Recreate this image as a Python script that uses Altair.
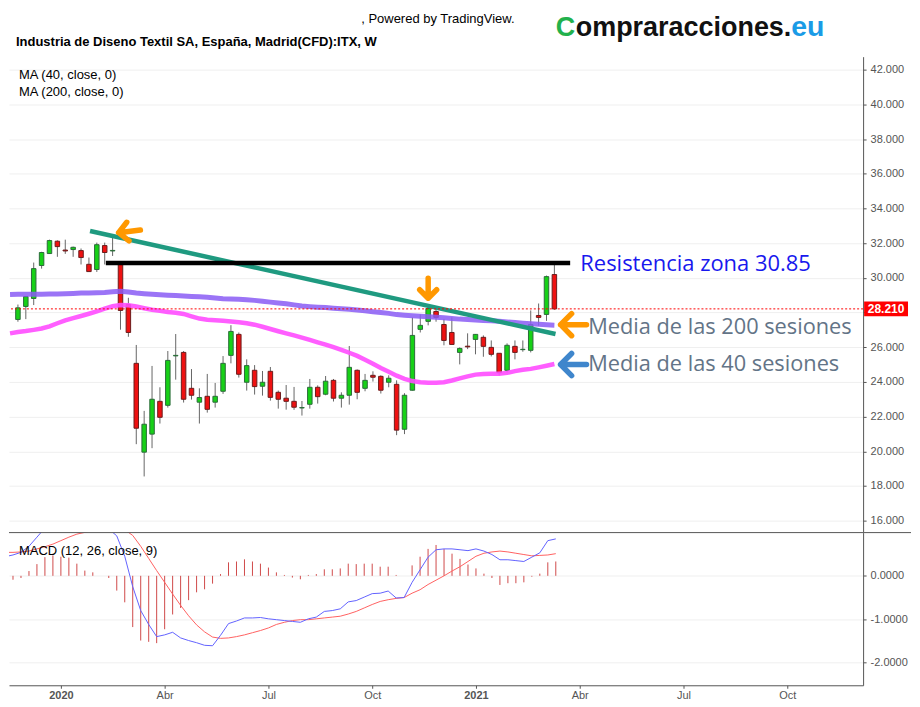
import json
import altair as alt
import pandas as pd

# ---------------- data (weekly bars, ITX) ----------------
first_week = "2019-11-18"
n_weeks = 69
open_ = [27.60, 28.35, 28.81, 30.71, 31.40, 32.11, 31.60, 31.63, 31.57, 30.78,
         30.48, 31.86, 31.55, 30.82, 28.46, 25.07, 19.95, 20.99, 22.88, 22.65,
         25.50, 25.70, 23.63, 22.83, 23.17, 22.83, 23.46, 25.53, 26.74, 23.98,
         24.67, 23.75, 24.61, 23.40, 23.06, 22.88, 22.50, 22.71, 23.69, 23.29,
         24.09, 23.06, 23.23, 24.67, 23.63, 24.38, 24.32, 23.98, 23.86, 21.27,
         23.52, 27.03, 27.49, 28.06, 27.31, 26.85, 25.70, 26.06, 26.45, 26.57,
         25.99, 25.65, 24.67, 26.05, 25.86, 25.82, 27.83, 27.89, 30.19]
high = [28.46, 28.95, 30.88, 31.50, 32.20, 32.16, 32.20, 31.80, 31.69, 31.17,
        32.03, 32.03, 32.30, 30.85, 28.85, 26.13, 22.33, 24.92, 23.69, 25.78,
        26.76, 25.78, 24.74, 23.63, 24.46, 23.94, 25.49, 27.27, 26.85, 25.30,
        24.97, 24.63, 24.86, 23.50, 23.82, 23.71, 22.90, 24.17, 23.80, 24.34,
        24.17, 23.40, 26.07, 24.72, 24.46, 24.61, 24.38, 24.38, 24.09, 23.35,
        27.72, 27.89, 28.43, 28.23, 27.62, 27.72, 25.99, 26.80, 26.76, 26.68,
        26.39, 25.66, 26.22, 26.39, 26.39, 28.12, 28.52, 30.13, 30.76]
low = [27.47, 27.62, 28.43, 30.53, 31.38, 31.21, 31.38, 31.21, 30.77, 30.34,
       30.34, 30.77, 31.26, 27.01, 26.60, 20.41, 18.55, 20.18, 21.60, 22.52,
       24.13, 22.81, 22.98, 21.60, 22.23, 22.52, 23.31, 25.07, 24.25, 23.50,
       23.27, 23.21, 22.92, 22.46, 22.40, 22.39, 22.06, 22.46, 22.75, 23.23,
       22.87, 22.52, 22.69, 23.00, 23.46, 24.02, 23.33, 23.69, 20.93, 20.99,
       23.50, 26.85, 27.26, 27.47, 26.11, 26.14, 25.01, 25.89, 25.59, 25.45,
       25.47, 24.38, 24.55, 25.30, 25.74, 25.70, 27.24, 27.52, 28.16]
close = [28.27, 28.92, 30.53, 31.46, 32.15, 31.80, 31.55, 31.76, 31.17, 30.36,
         31.91, 31.46, 31.58, 28.12, 26.85, 21.33, 21.56, 23.00, 21.96, 25.24,
         25.53, 23.00, 23.23, 23.10, 22.42, 23.17, 25.07, 26.91, 24.44, 24.94,
         23.73, 23.98, 23.11, 23.00, 22.88, 22.54, 22.52, 23.69, 23.15, 24.04,
         23.06, 23.23, 24.84, 23.40, 24.09, 24.27, 23.52, 24.21, 21.22, 23.23,
         26.68, 27.26, 28.23, 27.72, 26.39, 26.16, 25.93, 26.02, 26.74, 26.05,
         25.59, 24.53, 26.11, 25.70, 25.88, 27.31, 27.72, 30.07, 28.21]
ma40 = [26.88, 26.93, 27.00, 27.08, 27.20, 27.38, 27.55, 27.68, 27.80, 27.93,
        28.07, 28.22, 28.36, 28.43, 28.42, 28.35, 28.25, 28.16, 28.10, 28.03,
        27.99, 27.92, 27.78, 27.65, 27.58, 27.55, 27.52, 27.48, 27.44, 27.38,
        27.30, 27.18, 27.05, 26.92, 26.80, 26.68, 26.55, 26.42, 26.28, 26.15,
        26.00, 25.85, 25.68, 25.50, 25.28, 25.05, 24.80, 24.58, 24.36, 24.18,
        24.05, 23.98, 23.95, 23.95, 23.98, 24.08, 24.20, 24.32, 24.42, 24.46,
        24.47, 24.47, 24.52, 24.62, 24.70, 24.75, 24.84, 24.93, 25.03]
ma200 = [29.05, 29.06, 29.06, 29.06, 29.07, 29.07, 29.08, 29.10, 29.12, 29.13,
         29.14, 29.16, 29.20, 29.22, 29.18, 29.12, 29.08, 29.05, 29.03, 29.00,
         28.98, 28.95, 28.93, 28.91, 28.88, 28.84, 28.80, 28.78, 28.76, 28.73,
         28.70, 28.65, 28.60, 28.55, 28.50, 28.44, 28.38, 28.34, 28.31, 28.29,
         28.25, 28.22, 28.19, 28.15, 28.10, 28.05, 28.00, 27.95, 27.88, 27.84,
         27.81, 27.78, 27.76, 27.73, 27.70, 27.66, 27.62, 27.60, 27.57, 27.54,
         27.52, 27.50, 27.46, 27.42, 27.38, 27.35, 27.32, 27.29, 27.27]
macd = [0.48, 0.54, 0.68, 0.89, 1.10, 1.20, 1.25, 1.31, 1.24, 1.12,
        1.12, 1.08, 1.08, 0.92, 0.45, -0.25, -0.80, -1.12, -1.40, -1.36,
        -1.30, -1.43, -1.49, -1.54, -1.60, -1.61, -1.37, -1.10, -1.04, -0.97,
        -0.97, -0.96, -0.99, -1.01, -1.03, -1.05, -1.07, -0.99, -0.95, -0.82,
        -0.80, -0.76, -0.60, -0.57, -0.49, -0.41, -0.40, -0.35, -0.51, -0.50,
        -0.15, 0.14, 0.43, 0.60, 0.62, 0.62, 0.60, 0.58, 0.62, 0.57,
        0.49, 0.37, 0.37, 0.35, 0.33, 0.43, 0.53, 0.81, 0.85]
signal = [0.54, 0.55, 0.57, 0.62, 0.67, 0.73, 0.81, 0.89, 0.96, 1.00,
          1.04, 1.07, 1.09, 1.10, 1.06, 0.93, 0.68, 0.40, 0.12, -0.15,
          -0.42, -0.68, -0.92, -1.13, -1.29, -1.41, -1.44, -1.43, -1.40, -1.36,
          -1.31, -1.26, -1.20, -1.12, -1.07, -1.03, -1.01, -1.01, -0.99, -0.97,
          -0.95, -0.93, -0.88, -0.82, -0.74, -0.66, -0.59, -0.55, -0.52, -0.50,
          -0.40, -0.32, -0.20, -0.10, 0.00, 0.11, 0.21, 0.33, 0.45, 0.52,
          0.55, 0.57, 0.55, 0.52, 0.49, 0.46, 0.47, 0.48, 0.51]
hist = [-0.09, -0.05, 0.11, 0.27, 0.43, 0.47, 0.44, 0.42, 0.28, 0.12,
        0.08, 0.00, -0.05, -0.34, -0.61, -1.18, -1.49, -1.52, -1.55, -1.23,
        -0.89, -0.74, -0.56, -0.38, -0.31, -0.18, 0.04, 0.31, 0.33, 0.38,
        0.33, 0.28, 0.19, 0.08, 0.02, -0.04, -0.08, 0.02, 0.04, 0.15,
        0.15, 0.17, 0.28, 0.27, 0.28, 0.28, 0.21, 0.21, 0.02, 0.00,
        0.24, 0.44, 0.62, 0.71, 0.62, 0.51, 0.39, 0.26, 0.17, 0.05,
        -0.05, -0.21, -0.17, -0.17, -0.15, -0.02, 0.05, 0.31, 0.33]

# indicator values of the week before the first bar (lines enter from the left edge)
lead_week = "2019-11-11"
lead_ma40, lead_ma200, lead_macd, lead_signal = 26.80, 29.04, 0.44, 0.54

price_ticks = [16, 18, 20, 22, 24, 26, 28, 30, 32, 34, 36, 38, 40, 42]
hidden_price_labels = [28]  # covered by the last-price tag
macd_ticks = [0, -1, -2]
x_tick_weeks = ["2019-12-30", "2020-03-30", "2020-06-29", "2020-09-28",
                "2020-12-28", "2021-03-29", "2021-06-28", "2021-09-27"]
x_tick_labels = ["2020", "Abr", "Jul", "Oct", "2021", "Abr", "Jul", "Oct"]
bold_labels = ["2020", "2021"]

trend_dates = ["2020-01-21", "2021-03-09"]
trend_vals = [32.70, 26.76]
res_dates = ["2020-02-04", "2021-03-22"]
res_level = 30.85
last_price = 28.21

title_txt = "Industria de Diseno Textil SA, España, Madrid(CFD):ITX, W"
powered_txt = ", Powered by TradingView."
ma_txt = ["MA (40, close, 0)", "MA (200, close, 0)"]
macd_txt = "MACD (12, 26, close, 9)"

# ---------------- tables ----------------
origin = pd.Timestamp(first_week)
def day(d):
    return (pd.Timestamp(d) - origin).days

dates = pd.date_range(first_week, periods=n_weeks, freq="7D")
for arr in (open_, high, low, close, ma40, ma200, macd, signal, hist):
    assert len(arr) == n_weeks, len(arr)

df = pd.DataFrame({
    "t": [(d - origin).days for d in dates],
    "open": open_, "high": high, "low": low, "close": close,
    "ma40": ma40, "ma200": ma200,
    "macd": macd, "signal": signal, "hist": hist,
})
df["dir"] = ["up" if c >= o else "down" for o, c in zip(open_, close)]

ind_df = pd.DataFrame({
    "t": [day(lead_week)] + df["t"].tolist(),
    "ma40": [lead_ma40] + ma40, "ma200": [lead_ma200] + ma200,
    "macd": [lead_macd] + macd, "signal": [lead_signal] + signal,
})

trend_df = pd.DataFrame({"t": [day(d) for d in trend_dates], "v": trend_vals})
res_df = pd.DataFrame({"t": [day(d) for d in res_dates], "v": [res_level] * 2})
one = pd.DataFrame({"k": [0]})

tick_days = [day(d) for d in x_tick_weeks]
bold_days = [day(d) for d, l in zip(x_tick_weeks, x_tick_labels) if l in bold_labels]

# ---------------- scales / axes ----------------
W = 856
FONT = "Liberation Sans"
xscale = alt.Scale(domain=[-3.5, 745.5], nice=False, zero=False)
pscale = alt.Scale(domain=[15.37, 42.75], nice=False, zero=False)
mscale = alt.Scale(domain=[-2.52, 0.995], nice=False, zero=False)

MINUS = "\u2212"

def yaxis(values, fmt, hidden=()):
    expr = f"replace(format(datum.value, '{fmt}'), '{MINUS}', '-')"
    if hidden:
        expr = f"indexof({json.dumps(list(hidden))}, datum.value) >= 0 ? '' : {expr}"
    return alt.Axis(orient="right", values=values, labelExpr=expr, title=None,
                    grid=True, gridColor="#efefef", domainColor="#555555",
                    tickColor="#555555", tickSize=3, labelPadding=4,
                    labelColor="#555555", labelFontSize=11, labelFont=FONT)

paxis = yaxis(price_ticks, ".3f", hidden_price_labels)
maxis = yaxis(macd_ticks, ".4f")

X = alt.X("t:Q", scale=xscale, axis=None)

# ---------------- header ----------------
def txt(s, x, y, size=13, color="black", weight="normal", font=FONT, base="alphabetic"):
    return alt.Chart(one).mark_text(align="left", baseline=base, fontSize=size,
                                    color=color, fontWeight=weight, font=font).encode(
        x=alt.value(x), y=alt.value(y), text=alt.value(s))

header = alt.layer(
    txt(powered_txt, 353, 14),
    txt(title_txt, 7, 37, weight="bold"),
    txt("C", 548, 27, size=27, color="#22b14c", weight="bold"),
    txt("ompraracciones.", 568, 27, size=27, color="#111111", weight="bold"),
    txt("eu", 784, 27, size=28.5, color="#1a9be6", weight="bold"),
).properties(width=W, height=48)

# ---------------- price panel ----------------
base = alt.Chart(df)
ind = alt.Chart(ind_df)
Yp = lambda f: alt.Y(f, scale=pscale, axis=paxis)

wicks = base.mark_rule(color="#666666", strokeWidth=1).encode(
    x=X, y=Yp("low:Q"), y2="high:Q")
bodies = base.mark_bar(width=4.5, strokeWidth=1).encode(
    x=X, y=Yp("open:Q"), y2="close:Q",
    color=alt.Color("dir:N", scale=alt.Scale(domain=["up", "down"], range=["#17d117", "#ee1111"]), legend=None),
    stroke=alt.Stroke("dir:N", scale=alt.Scale(domain=["up", "down"], range=["#2b6b3a", "#6b1c1c"]), legend=None),
)
ma200_line = ind.mark_line(color="#8a5cf5", strokeWidth=5, opacity=0.85, clip=True).encode(x=X, y=Yp("ma200:Q"))
ma40_line = ind.mark_line(color="#ff4dff", strokeWidth=4.5, opacity=0.9, clip=True).encode(x=X, y=Yp("ma40:Q"))
trend = alt.Chart(trend_df).mark_line(color="#1f9a80", strokeWidth=4.5).encode(x=X, y=Yp("v:Q"))
res = alt.Chart(res_df).mark_line(color="#000000", strokeWidth=4.5).encode(x=X, y=Yp("v:Q"))
last_line = alt.Chart(one).mark_rule(color="#ff0000", strokeWidth=1, strokeDash=[2, 2]).encode(
    y=alt.Y(datum=last_price, scale=pscale, axis=paxis))

ARROW = "M -1 0 L 1 0 M -0.15 -0.85 L -1 0 L -0.15 0.85"
def arrow(d, p, size, angle, color):
    return alt.Chart(one).mark_point(shape=ARROW, size=size, angle=angle, color=color,
                                     filled=False, strokeWidth=5.5, strokeCap="round",
                                     strokeJoin="round", opacity=1).encode(
        x=alt.X(datum=day(d), scale=xscale, axis=None),
        y=alt.Y(datum=p, scale=pscale, axis=paxis))

arrows = [
    arrow("2020-02-25", 32.68, 484, 353, "#ff9800"),
    arrow("2020-11-16", 29.40, 400, 270, "#ff9800"),
    arrow("2021-03-25", 27.30, 676, 0, "#ff9800"),
    arrow("2021-03-25", 25.00, 676, 0, "#3f86cc"),
]

def ann(s, d, p, color, size):
    return alt.Chart(one).mark_text(align="left", baseline="middle", fontSize=size,
                                    font="Open Sans", color=color).encode(
        x=alt.X(datum=day(d), scale=xscale, axis=None),
        y=alt.Y(datum=p, scale=pscale, axis=paxis),
        text=alt.value(s))

anns = [
    ann(f"Resistencia zona {res_level}", "2021-03-31", 30.79, "#1818ee", 22),
    ann("Media de las 200 sesiones", "2021-04-07", 27.17, "#637487", 21.8),
    ann("Media de las 40 sesiones", "2021-04-07", 25.05, "#637487", 21.8),
]

BOX = "M -1 -0.34 L 1 -0.34 L 1 0.34 L -1 0.34 Z"
last_box = alt.Chart(one).mark_point(shape=BOX, size=1936, filled=True, color="#ff0000", opacity=1).encode(
    x=alt.value(879), y=alt.Y(datum=last_price, scale=pscale, axis=paxis))
last_lbl = alt.Chart(one).mark_text(color="white", fontWeight="bold", fontSize=12, font=FONT,
                                    baseline="middle").encode(
    x=alt.value(879), y=alt.Y(datum=last_price, scale=pscale, axis=paxis),
    text=alt.value(f"{last_price:.3f}"))

price = alt.layer(
    wicks, bodies, ma200_line, ma40_line, trend, res, last_line,
    *arrows, *anns, last_box, last_lbl,
    txt(ma_txt[0], 10, 22), txt(ma_txt[1], 10, 39),
).properties(width=W, height=476)

# ---------------- MACD panel ----------------
label_expr = f"{json.dumps(x_tick_labels)}[indexof({json.dumps(tick_days)}, datum.value)]"
xaxis = alt.Axis(values=tick_days, labelExpr=label_expr, title=None, grid=False,
                 domainColor="#555555", tickColor="#555555", tickSize=3, labelPadding=1,
                 labelColor="#555555", labelFontSize=11, labelFont=FONT,
                 labelFontWeight={"condition": {"test": f"indexof({json.dumps(bold_days)}, datum.value) >= 0",
                                                "value": "bold"}, "value": "normal"})
Xm = alt.X("t:Q", scale=xscale, axis=xaxis)
Ym = lambda f: alt.Y(f, scale=mscale, axis=maxis)

hist_bars = base.mark_rule(color="#d04a4a", strokeWidth=1).encode(
    x=Xm, y=Ym("hist:Q"), y2=alt.datum(0))
sig_line = ind.mark_line(color="#ff6161", strokeWidth=1, clip=True).encode(x=Xm, y=Ym("signal:Q"))
macd_line = ind.mark_line(color="#6262ff", strokeWidth=1, clip=True).encode(x=Xm, y=Ym("macd:Q"))
sep = alt.Chart(one).mark_rule(color="#555555", strokeWidth=1).encode(
    x=alt.value(0), x2=alt.value(904), y=alt.value(0))

macd_panel = alt.layer(
    hist_bars, sig_line, macd_line, sep, txt(macd_txt, 10, 22),
).properties(width=W, height=153)

chart = alt.vconcat(header, price, macd_panel, spacing=0).properties(
    padding=0, background="white"
).configure_view(stroke=None)

chart.save("out.html", embed_options={"renderer": "svg", "actions": False})
